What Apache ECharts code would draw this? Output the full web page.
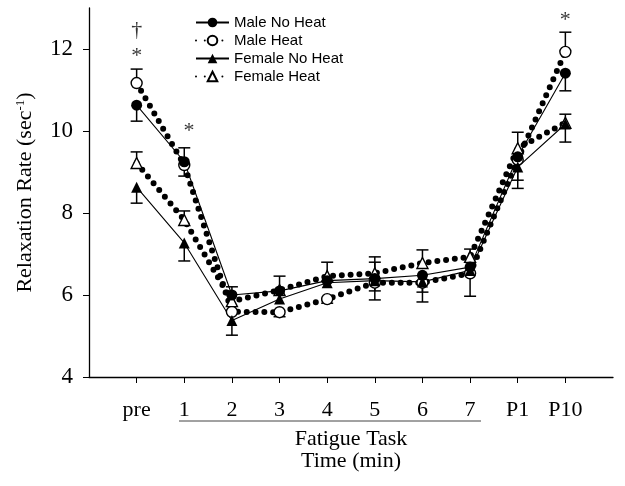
<!DOCTYPE html>
<html><head><meta charset="utf-8">
<script src="https://cdn.jsdelivr.net/npm/echarts@6/dist/echarts.min.js"></script>
<style>html,body{margin:0;padding:0;background:#fff}#c{width:625px;height:486px}</style>
</head><body><div id="c"></div>
<script>
const categories = ['pre','1','2','3','4','5','6','7','P1','P10'];
const yTicks = [4, 6, 8, 10, 12];
const maleNoHeat   = [10.63, 9.25, 6.00, 6.10, 6.35, 6.40, 6.48, 6.68, 9.37, 11.41];
const maleHeat     = [11.17, 9.17, 5.59, 5.58, 5.90, 6.30, 6.30, 6.53, 9.30, 11.93];
const femaleNoHeat = [8.63, 7.27, 5.38, 5.90, 6.30, 6.35, 6.32, 6.60, 9.12, 10.17];
const femaleHeat   = [9.22, 7.83, 5.85, 6.12, 6.46, 6.53, 6.78, 6.93, 9.58, 10.20];
// error bar ends (null = not visible)
const maleNoHeatErr   = [10.24, 8.90, null, null, null, 6.80, 6.07, null, null, 10.98];
const maleHeatErr     = [11.51, 9.59, null, 5.47, 5.80, 5.88, null, 5.97, 8.80, 12.41];
const femaleNoHeatErr = [8.24, 6.83, 5.02, null, null, 6.10, 5.83, null, 8.60, 9.73];
const femaleHeatErr   = [9.49, 8.05, 6.20, 6.46, 6.80, 6.93, 7.10, 7.12, 9.97, 10.41];
// significance marks
const noteX = [0, 0, 1.1, 9];
const noteY = [12.46, 11.83, 10.0, 12.71];
const noteText = ['\u2020', '*', '*', '*'];

const serif = 'Liberation Serif, Times New Roman, serif';
const sans = 'Liberation Sans, Arial, sans-serif';

function lineSeries(name, vals, symbol, filled, dotted) {
  return {
    name: name, type: 'line', data: vals.map((v, i) => [i, v]),
    symbol: symbol, symbolSize: 11, z: 3,
    itemStyle: { color: filled ? '#000' : '#fff', borderColor: '#000', borderWidth: filled ? 0 : 1.4 },
    lineStyle: dotted ? { color: '#000', width: 6, type: [0, 8.8], cap: 'round' } : { color: '#000', width: 1.1 },
    emphasis: { disabled: true }
  };
}

const errData = [];
[[maleNoHeat, maleNoHeatErr], [maleHeat, maleHeatErr], [femaleNoHeat, femaleNoHeatErr], [femaleHeat, femaleHeatErr]]
  .forEach(([v, e]) => e.forEach((end, i) => { if (end != null) errData.push([i, v[i], end]); }));

const chart = echarts.init(document.getElementById('c'));
chart.setOption({
  animation: false,
  backgroundColor: '#fff',
  grid: { left: 89, right: 12, top: 8, bottom: 109 },
  legend: {
    orient: 'vertical', left: 190, top: 10, itemWidth: 33, itemHeight: 12, itemGap: 3,
    data: ['Male No Heat', 'Male Heat', 'Female No Heat', 'Female Heat'],
    textStyle: { fontFamily: sans, fontSize: 15, color: '#000' }
  },
  xAxis: {
    type: 'value', min: -1, max: 10,
    splitLine: { show: false },
    axisLine: { onZero: false, lineStyle: { color: '#000', width: 1.3 } },
    axisTick: { customValues: [0,1,2,3,4,5,6,7,8,9], length: 6, lineStyle: { color: '#000' } },
    axisLabel: { customValues: [0,1,2,3,4,5,6,7,8,9], formatter: v => categories[v], margin: 22,
      fontFamily: serif, fontSize: 22, color: '#000' },
    name: 'Fatigue Task\nTime (min)', nameLocation: 'middle', nameGap: 51,
    nameTextStyle: { fontFamily: serif, fontSize: 22, color: '#000', lineHeight: 22 }
  },
  yAxis: {
    type: 'value', min: 4, max: 13,
    splitLine: { show: false },
    axisLine: { show: true, onZero: false, lineStyle: { color: '#000', width: 1.3 } },
    axisTick: { show: true, customValues: yTicks, length: 6, lineStyle: { color: '#000' } },
    axisLabel: { customValues: yTicks, margin: 16, fontFamily: serif, fontSize: 23, color: '#000' },
    name: '{a|Relaxation Rate (sec}{s|-1}{a|)}', nameLocation: 'middle', nameGap: 53,
    nameTextStyle: { rich: {
      a: { fontFamily: serif, fontSize: 22, color: '#000' },
      s: { fontFamily: serif, fontSize: 13, color: '#000', verticalAlign: 'top' }
    } }
  },
  graphic: [{ type: 'line', shape: { x1: 179, y1: 421, x2: 481, y2: 421 }, style: { stroke: '#444', lineWidth: 1 } }],
  series: [
    {
      type: 'custom', data: errData, z: 2, silent: true, encode: { x: 0, y: [1, 2] },
      renderItem: function (params, api) {
        const p0 = api.coord([api.value(0), api.value(1)]);
        const p1 = api.coord([api.value(0), api.value(2)]);
        const hw = 6;
        return { type: 'group', children: [
          { type: 'line', shape: { x1: p0[0], y1: p0[1], x2: p1[0], y2: p1[1] }, style: { stroke: '#000', lineWidth: 1.5 } },
          { type: 'line', shape: { x1: p1[0] - hw, y1: p1[1], x2: p1[0] + hw, y2: p1[1] }, style: { stroke: '#000', lineWidth: 1.5 } }
        ] };
      }
    },
    lineSeries('Male Heat', maleHeat, 'circle', false, true),
    lineSeries('Female Heat', femaleHeat, 'triangle', false, true),
    lineSeries('Male No Heat', maleNoHeat, 'circle', true, false),
    lineSeries('Female No Heat', femaleNoHeat, 'triangle', true, false),
    {
      type: 'scatter', silent: true, symbolSize: 1, itemStyle: { color: 'rgba(0,0,0,0)' },
      data: noteX.map((x, i) => [x, noteY[i]]),
      label: { show: true, position: 'inside', formatter: p => noteText[p.dataIndex],
        fontFamily: serif, fontSize: 22, color: '#000' }
    }
  ]
});
</script></body></html>
